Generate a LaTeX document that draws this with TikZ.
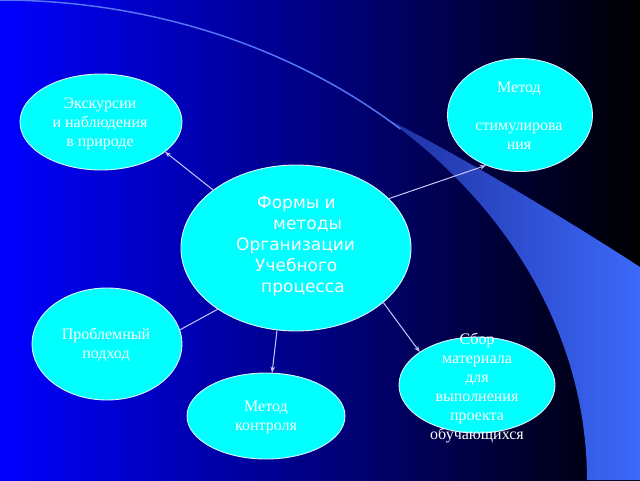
\documentclass[tikz,border=0pt]{standalone}
\usepackage{fontspec}
\setmainfont{Liberation Serif}
\newfontfamily\censans{DejaVu Sans}
\usetikzlibrary{arrows.meta,shapes.geometric}
\definecolor{bubfill}{RGB}{0,255,255}
\definecolor{bubline}{RGB}{225,245,255}
\definecolor{linec}{RGB}{200,200,255}
\definecolor{banddark}{RGB}{30,48,160}
\definecolor{bandlight}{RGB}{60,105,250}
\definecolor{bandline}{RGB}{85,115,245}
\definecolor{bgmid}{RGB}{0,0,150}
\begin{document}
\begin{tikzpicture}[x=1pt,y=-1pt,
  bub/.style={ellipse, fill=bubfill, draw=bubline, line width=0.9pt, inner sep=0pt},
  txt/.style={text=white, font=\fontsize{16}{19}\selectfont, align=center, inner sep=0pt},
  ctxt/.style={text=white, font=\censans\fontsize{17}{21}\selectfont, align=left, inner sep=0pt},
  conn/.style={draw=linec, line width=1pt, -{Stealth[length=6pt,width=4.5pt]}},
  plainconn/.style={draw=linec, line width=1pt}]
\useasboundingbox (0,0) rectangle (640,480);
% background
\shade[left color=blue, middle color=bgmid, right color=black] (0,0) rectangle (640,480);
% band
\shade[left color=banddark, right color=bandlight]
  plot[domain=49:0, samples=60, smooth] ({587*cos(\x)},{480-480*sin(\x)})
  -- (640,480) -- (640,267) .. controls (560,215) and (450,150) .. (385,118) -- cycle;
\draw[bandline, line width=1.5pt]
  plot[domain=90:47, samples=60, smooth] ({587*cos(\x)},{480-480*sin(\x)});
% ellipses
\node[bub, minimum width=162pt, minimum height=96pt] (exc) at (101,122) {};
\node[bub, minimum width=145pt, minimum height=113pt] (stim) at (520,115) {};
\node[bub, minimum width=230pt, minimum height=166pt] (cen) at (296,248) {};
\node[bub, minimum width=150pt, minimum height=112pt] (prob) at (107,344) {};
\node[bub, minimum width=158pt, minimum height=86pt] (kont) at (266,416) {};
\node[bub, minimum width=156pt, minimum height=96pt] (sbor) at (477,385) {};
% connectors
\draw[conn] (cen.145.8) -- (exc.-25.8);
\draw[conn] (cen.28.5) -- (stim.-124.8);
\draw[plainconn] (cen.218.5) -- (prob.11.6);
\draw[conn] (cen.257.8) -- (kont.82.9);
\draw[conn] (cen.-32.5) -- (sbor.150);
% texts
\node[txt] (excT) at (100,124) {Экскурсии\\и наблюдения\\в природе};
\node[txt] (stimT) at (519,116) {Метод\\ \\стимулирова\\ния};
\node[txt] (probT) at (106,345) {Проблемный\\подход};
\node[txt] (kontT) at (266,417) {Метод\\контроля};
\node[txt] (sborT) at (477,388) {Сбор\\материала\\для\\выполнения\\проекта\\обучающихся};
\node[ctxt, anchor=west] (cenT) at (236,246) {\hspace*{21pt}Формы и\\\hspace*{37pt}методы\\Организации\\\hspace*{19pt}Учебного\\\hspace*{25pt}процесса};
\end{tikzpicture}
\end{document}
